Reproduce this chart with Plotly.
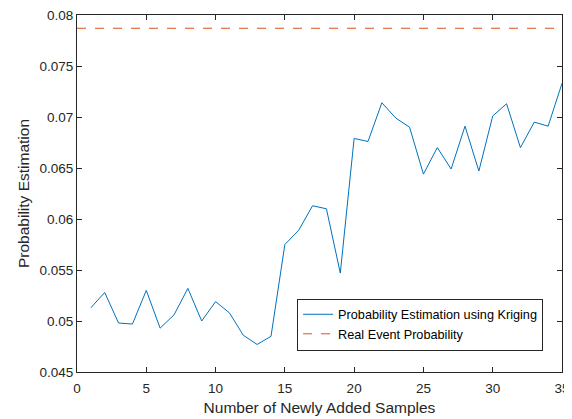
import plotly.graph_objects as go

samples = list(range(1, 36))
kriging_estimate = [0.0513, 0.0528, 0.0498, 0.0497, 0.0530, 0.0493, 0.0506, 0.0532, 0.0500, 0.0519,
                    0.0508, 0.0486, 0.0477, 0.0485, 0.0575, 0.0589, 0.0613, 0.0610, 0.0547, 0.0679,
                    0.0676, 0.0714, 0.0699, 0.0690, 0.0644, 0.0670, 0.0649, 0.0691, 0.0647, 0.0701,
                    0.0713, 0.0670, 0.0695, 0.0691, 0.0733]
real_probability = 0.0787
x_range = [0, 35]
real_x = [0, 35]
real_y = [real_probability, real_probability]
x_ticks = [0, 5, 10, 15, 20, 25, 30, 35]
y_ticks = [0.045, 0.05, 0.055, 0.06, 0.065, 0.07, 0.075, 0.08]
y_tick_labels = ["0.045", "0.05", "0.055", "0.06", "0.065", "0.07", "0.075", "0.08"]

font_family = "Liberation Sans, Arial, sans-serif"
axis_color = "#262626"

fig = go.Figure()
fig.add_trace(go.Scatter(x=samples, y=kriging_estimate, mode="lines",
                         name="Probability Estimation using Kriging",
                         line=dict(color="#0072BD", width=1)))
fig.add_trace(go.Scatter(x=real_x, y=real_y, mode="lines",
                         name="Real Event Probability",
                         line=dict(color="#D95319", width=1, dash="dash")))

axis_common = dict(showgrid=False, zeroline=False, showline=True, linecolor=axis_color,
                   linewidth=1, mirror="ticks", ticks="inside", ticklen=5, automargin=False,
                   ticklabeloverflow="allow",
                   tickcolor=axis_color, tickfont=dict(family=font_family, size=13.5, color=axis_color))

fig.update_xaxes(range=x_range, tickvals=x_ticks, ticklabelstandoff=4,
                 title=dict(text="Number of Newly Added Samples",
                            font=dict(family=font_family, size=15.5, color=axis_color), standoff=6),
                 **axis_common)
fig.update_yaxes(range=[0.045, 0.08], tickvals=y_ticks, ticktext=y_tick_labels,
                 title=dict(text="Probability Estimation",
                            font=dict(family=font_family, size=15.5, color=axis_color), standoff=6),
                 **axis_common)

# The page body has an 8px margin, so the figure is sized and padded to land
# its plot area at the same pixels as the reference.
fig.update_layout(
    width=564, height=411,
    margin=dict(l=69, r=10, t=7, b=47),
    paper_bgcolor="white", plot_bgcolor="white",
    font=dict(family=font_family, color=axis_color),
    showlegend=True,
    legend=dict(x=0.961, y=0.133, xanchor="right", yanchor="middle",
                bgcolor="white", bordercolor=axis_color, borderwidth=1,
                font=dict(family=font_family, size=12.7, color="black"),
                tracegroupgap=0, itemwidth=30),
)

fig.write_html("out.html")
